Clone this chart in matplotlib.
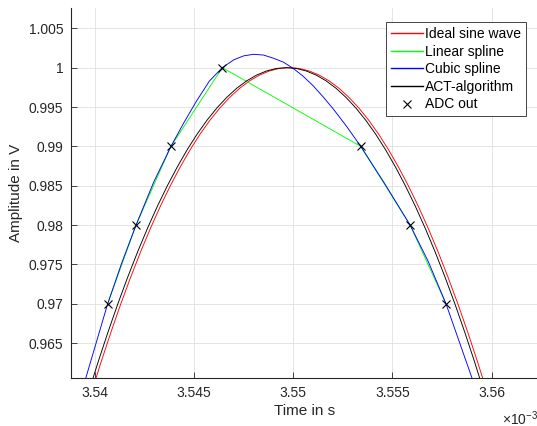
import matplotlib
matplotlib.use('Agg')
import matplotlib.pyplot as plt
from matplotlib.ticker import FixedLocator, FixedFormatter

plt.rcParams['font.family'] = ['Liberation Sans', 'DejaVu Sans']
plt.rcParams['mathtext.fontset'] = 'custom'
plt.rcParams['mathtext.rm'] = 'Liberation Sans'

# time values are in units of 1e-3 s (axis shows a x10^-3 multiplier)
ideal_t = [3.5388, 3.53930, 3.5398, 3.54030, 3.5408, 3.54130, 3.5418, 3.54230,
           3.5428, 3.54330, 3.5438, 3.54430, 3.5448, 3.54530, 3.5458, 3.54630,
           3.5468, 3.54730, 3.5478, 3.54830, 3.5488, 3.54930, 3.5498, 3.55030,
           3.5508, 3.55130, 3.5518, 3.55230, 3.5528, 3.55330, 3.5538, 3.55430,
           3.5548, 3.55530, 3.5558, 3.55630, 3.5568, 3.55730, 3.5578, 3.55830,
           3.5588, 3.55930, 3.5598, 3.56030, 3.5608]
ideal_v = [0.94990, 0.95431, 0.95853, 0.96255, 0.96636, 0.96998, 0.97339, 0.97660,
           0.97961, 0.98241, 0.98500, 0.98739, 0.98958, 0.99156, 0.99333, 0.99489,
           0.99624, 0.99739, 0.99833, 0.99906, 0.99958, 0.99990, 1.00000, 0.99990,
           0.99958, 0.99906, 0.99833, 0.99739, 0.99624, 0.99489, 0.99333, 0.99156,
           0.98958, 0.98739, 0.98500, 0.98241, 0.97961, 0.97660, 0.97339, 0.96998,
           0.96636, 0.96255, 0.95853, 0.95431, 0.94990]

act_t = [3.53865, 3.53915, 3.53965, 3.54015, 3.54065, 3.54115, 3.54165, 3.54215,
         3.54265, 3.54315, 3.54365, 3.54415, 3.54465, 3.54515, 3.54565, 3.54615,
         3.54665, 3.54715, 3.54765, 3.54815, 3.54865, 3.54915, 3.54965, 3.55015,
         3.55065, 3.55115, 3.55165, 3.55215, 3.55265, 3.55315, 3.55365, 3.55415,
         3.55465, 3.55515, 3.55565, 3.55615, 3.55665, 3.55715, 3.55765, 3.55815,
         3.55865, 3.55915, 3.55965, 3.56015, 3.56065]
act_v = [0.94990, 0.95431, 0.95853, 0.96255, 0.96636, 0.96998, 0.97339, 0.97660,
         0.97961, 0.98241, 0.98500, 0.98739, 0.98958, 0.99156, 0.99333, 0.99489,
         0.99624, 0.99739, 0.99833, 0.99906, 0.99958, 0.99990, 1.00000, 0.99990,
         0.99958, 0.99906, 0.99833, 0.99739, 0.99624, 0.99489, 0.99333, 0.99156,
         0.98958, 0.98739, 0.98500, 0.98241, 0.97961, 0.97660, 0.97339, 0.96998,
         0.96636, 0.96255, 0.95853, 0.95431, 0.94990]

adc_t = [3.54064, 3.54207, 3.54383, 3.54642, 3.55340, 3.55589, 3.55770]
adc_v = [0.97, 0.98, 0.99, 1.00, 0.99, 0.98, 0.97]

cubic_t = [3.5394, 3.54064, 3.54135, 3.54207, 3.54295, 3.54383, 3.54448, 3.54513,
           3.54577, 3.54642, 3.5470, 3.5475, 3.5480, 3.5485, 3.5490, 3.5495,
           3.5500, 3.5505, 3.5510, 3.5515, 3.5520, 3.5527, 3.5534, 3.5546,
           3.55589, 3.5568, 3.5577, 3.5592]
cubic_v = [0.9594, 0.9700, 0.9752, 0.9800, 0.9854, 0.9900, 0.9930, 0.9958,
           0.9983, 1.0000, 1.0010, 1.0015, 1.0017, 1.0016, 1.0012, 1.0007,
           0.9999, 0.9989, 0.9977, 0.9963, 0.9948, 0.9925, 0.9900, 0.9853,
           0.9800, 0.9754, 0.9700, 0.9592]

x_ticks = [3.54, 3.545, 3.55, 3.555, 3.56]
x_labels = ['3.54', '3.545', '3.55', '3.555', '3.56']
y_ticks = [0.965, 0.97, 0.975, 0.98, 0.985, 0.99, 0.995, 1.0, 1.005]
y_labels = ['0.965', '0.97', '0.975', '0.98', '0.985', '0.99', '0.995', '1', '1.005']

legend_labels = ['Ideal sine wave', 'Linear spline', 'Cubic spline', 'ACT-algorithm', 'ADC out']

W, H = 537, 426
fig = plt.figure(figsize=(W / 100, H / 100), dpi=100)
# axes run slightly past the right border of the image (cropped like the original)
ax = fig.add_axes([71 / W, 47.7 / H, 468 / W, 370.3 / H])

lw = 0.65
l1, = ax.plot(ideal_t, ideal_v, color='#ff0000', lw=lw)
l2, = ax.plot(adc_t, adc_v, color='#00ff00', lw=lw)
l3, = ax.plot(cubic_t, cubic_v, color='#0000ff', lw=lw)
l4, = ax.plot(act_t, act_v, color='#000000', lw=lw)
l5, = ax.plot(adc_t, adc_v, 'x', color='black', ms=6, mew=0.8, ls='none')

ax.set_xlim(3.53879, 3.56239)
ax.set_ylim(0.96053, 1.00758)
ax.xaxis.set_major_locator(FixedLocator(x_ticks))
ax.xaxis.set_major_formatter(FixedFormatter(x_labels))
ax.yaxis.set_major_locator(FixedLocator(y_ticks))
ax.yaxis.set_major_formatter(FixedFormatter(y_labels))

ax.grid(True, color='#dfdfdf', lw=0.6)
ax.set_axisbelow(True)
for s in ['top', 'right']:
    ax.spines[s].set_visible(False)
for s in ['left', 'bottom']:
    ax.spines[s].set_color('#262626')
    ax.spines[s].set_linewidth(0.8)
ax.tick_params(direction='in', length=4, width=0.6, colors='#262626',
               labelsize=10, pad=5.5)

ax.set_xlabel('Time in s', fontsize=11, labelpad=3, color='#262626')
ax.set_ylabel('Amplitude in V', fontsize=11, labelpad=4, color='#262626')

fig.text(502 / W, 1.5 / H, r'$\mathregular{\times10^{-3}}$', fontsize=10,
         ha='left', va='baseline', color='#262626')

leg = ax.legend([l1, l2, l3, l4, l5], legend_labels, loc='upper right',
                bbox_to_anchor=(526 / W, 1 - 22.3 / H), bbox_transform=fig.transFigure,
                borderaxespad=0, fontsize=10, handlelength=2.3, handletextpad=0.2,
                labelspacing=0.26, borderpad=0.34, fancybox=False, framealpha=1,
                edgecolor='#262626', numpoints=1)
leg.get_frame().set_linewidth(0.6)
for line in leg.get_lines()[:4]:
    line.set_linewidth(1.0)

fig.savefig('out.png', dpi=100)
print("saved out.png")
